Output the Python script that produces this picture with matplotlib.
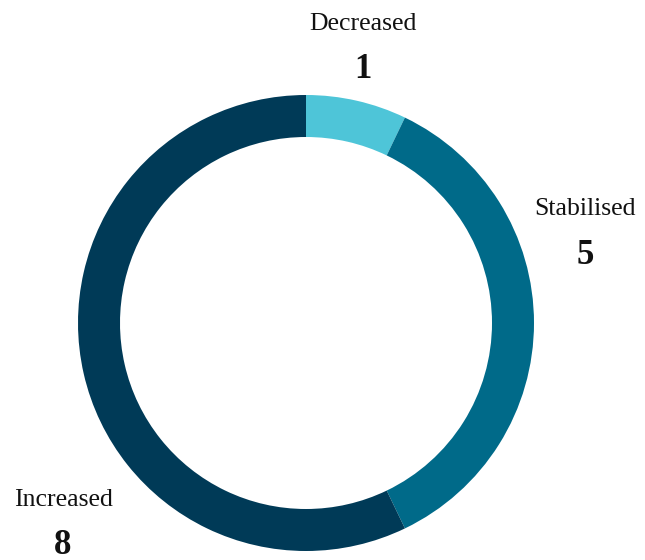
import matplotlib.pyplot as plt

# outcome counts shown on the ring
categories = ['Decreased', 'Stabilised', 'Increased']
counts = [1, 5, 8]
colors = ['#4EC5D8', '#006A89', '#003A57']

# label anchor positions (figure pixels, top-left origin)
label_pos = [(363, 24), (585, 209), (63, 500)]

plt.rcParams['font.family'] = ['Liberation Serif', 'DejaVu Serif']

W, H = 645, 560
fig = plt.figure(figsize=(W / 100, H / 100), dpi=100)
ax = fig.add_axes([0, 0, 1, 1])
ax.set_xlim(0, W)
ax.set_ylim(0, H)
ax.set_aspect('equal')
ax.axis('off')

outer = 228
ring = 42
ax.pie(counts, colors=colors, startangle=90, counterclock=False,
       radius=outer, center=(306, H - 323),
       wedgeprops=dict(width=ring, linewidth=0))
ax.set_xlim(0, W)
ax.set_ylim(0, H)

for name, n, (x, y) in zip(categories, counts, label_pos):
    ax.text(x, H - y, name, ha='center', va='center', fontsize=18.5, color='#111111')
    ax.text(x, H - y - 46, str(n), ha='center', va='center', fontsize=25,
            fontweight='bold', color='#111111')

fig.savefig('out.png', dpi=100)
